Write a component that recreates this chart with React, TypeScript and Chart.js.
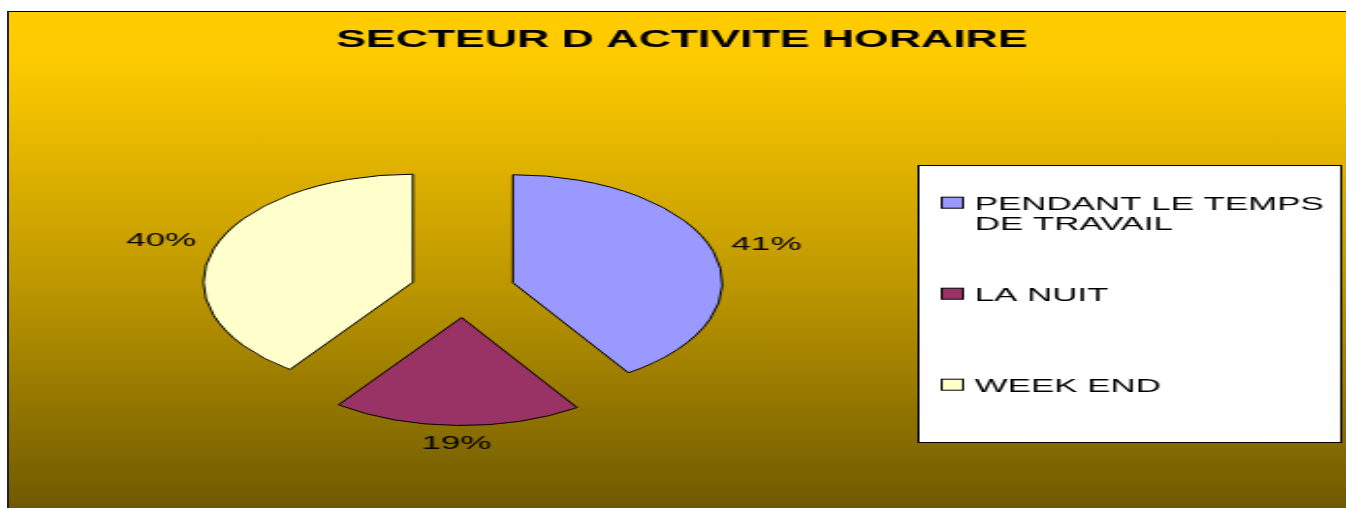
import React, { useEffect, useRef } from "react";
import { Chart, registerables } from "chart.js";

Chart.register(...registerables);

const TITLE = "SECTEUR D ACTIVITE HORAIRE";
const categories = ["PENDANT LE TEMPS DE TRAVAIL", "LA NUIT", "WEEK END"];
const values = [40.7, 19.3, 40.0];
const colors = ["#9999FF", "#993366", "#FFFFCC"];

const FONT = "'Liberation Sans', Arial, Helvetica, sans-serif";
const W = 690;
const H = 497;
const K = 1338 / W;
const EXPLODE = 27;

function wrapText(ctx: CanvasRenderingContext2D, text: string, maxW: number): string[] {
  const words = text.split(" ");
  const lines: string[] = [];
  let cur = "";
  for (const w of words) {
    const test = cur ? cur + " " + w : w;
    if (ctx.measureText(test).width > maxW && cur) {
      lines.push(cur);
      cur = w;
    } else {
      cur = test;
    }
  }
  if (cur) lines.push(cur);
  return lines;
}

export default function App() {
  const ref = useRef<HTMLCanvasElement>(null);

  useEffect(() => {
    const canvas = ref.current as HTMLCanvasElement;

    // explode each slice outward along its mid angle, keeping radius and angles intact
    const explode = {
      id: "explode",
      afterDatasetUpdate(chart: any, args: any) {
        const meta = chart.getDatasetMeta(args.index);
        meta.data.forEach((arc: any) => {
          const mid = (arc.startAngle + arc.endAngle) / 2;
          arc.x = arc.x + Math.cos(mid) * EXPLODE;
          arc.y = arc.y + Math.sin(mid) * EXPLODE;
        });
      },
    };

    const pctLabels = {
      id: "pctLabels",
      afterDatasetsDraw(chart: any) {
        const ctx: CanvasRenderingContext2D = chart.ctx;
        const meta = chart.getDatasetMeta(0);
        const data: number[] = chart.data.datasets[0].data;
        const total = data.reduce((a, b) => a + b, 0);
        ctx.save();
        ctx.font = `18px ${FONT}`;
        ctx.fillStyle = "#000";
        ctx.textAlign = "center";
        ctx.textBaseline = "alphabetic";
        meta.data.forEach((arc: any, i: number) => {
          const mid = (arc.startAngle + arc.endAngle) / 2;
          const R = arc.outerRadius;
          const text = Math.round((data[i] / total) * 100) + "%";
          const hw = ctx.measureText(text).width / 2;
          const hh = 8;
          const c = Math.cos(mid);
          const s = Math.sin(mid);
          const d = R + 9 + Math.abs(c) * hw + Math.abs(s) * hh;
          ctx.fillText(text, arc.x + c * d, arc.y + s * d + 6.5);
        });
        ctx.restore();
      },
    };

    const titleAndLegend = {
      id: "titleAndLegend",
      afterDraw(chart: any) {
        const ctx: CanvasRenderingContext2D = chart.ctx;
        ctx.save();
        // title
        ctx.font = `bold 23px ${FONT}`;
        ctx.fillStyle = "#000";
        ctx.textAlign = "center";
        ctx.textBaseline = "alphabetic";
        ctx.fillText(TITLE, 347.5, 35.7);

        // legend box
        const x1 = 469.5, y1 = 154.5, x2 = 687.5, y2 = 431.5;
        ctx.fillStyle = "#FFFFFF";
        ctx.fillRect(x1, y1, x2 - x1, y2 - y1);
        ctx.strokeStyle = "#000";
        ctx.lineWidth = 1;
        ctx.strokeRect(x1, y1, x2 - x1, y2 - y1);

        ctx.font = `18px ${FONT}`;
        ctx.textAlign = "left";
        const labels: string[] = chart.data.labels;
        const bg: string[] = chart.data.datasets[0].backgroundColor;
        labels.forEach((lab, i) => {
          const base = 198.5 + i * 91;
          ctx.fillStyle = bg[i];
          ctx.fillRect(481.5, base - 12.3, 11, 11);
          ctx.strokeStyle = "#000";
          ctx.strokeRect(481.5, base - 12.3, 11, 11);
          ctx.fillStyle = "#000";
          const lines = wrapText(ctx, lab, 190);
          lines.forEach((ln, j) => ctx.fillText(ln, 498.5, base + j * 20.7));
        });
        ctx.restore();
      },
    };

    const chart = new Chart(canvas, {
      type: "pie",
      data: {
        labels: categories,
        datasets: [
          {
            data: values,
            backgroundColor: colors,
            borderColor: "#000000",
            borderWidth: 1,
            borderJoinStyle: "miter",
            radius: 108,
          } as any,
        ],
      },
      options: {
        responsive: false,
        devicePixelRatio: 1,
        animation: false,
        events: [],
        layout: { padding: { left: 0, right: 221, top: 62, bottom: 0 } },
        plugins: {
          legend: { display: false },
          title: { display: false },
          tooltip: { enabled: false },
        },
      } as any,
      plugins: [explode, pctLabels, titleAndLegend],
    });

    return () => chart.destroy();
  }, []);

  return (
    <>
      <div
        style={{
          position: "fixed",
          left: 7,
          top: 11,
          width: 1339,
          height: 497,
          boxSizing: "border-box",
          borderLeft: "2px solid #222",
          borderTop: "1px solid #000",
          background:
            "linear-gradient(to bottom, #FFCC00 0%, #FDCA00 10%, #BD9700 55%, #6F5900 100%)",
        }}
      />
      <div
        style={{
          position: "fixed",
          left: 8,
          top: 11,
          width: W,
          height: H,
          transform: `scaleX(${K})`,
          transformOrigin: "0 0",
        }}
      >
        <canvas ref={ref} width={W} height={H} style={{ display: "block", width: W, height: H }} />
      </div>
    </>
  );
}
